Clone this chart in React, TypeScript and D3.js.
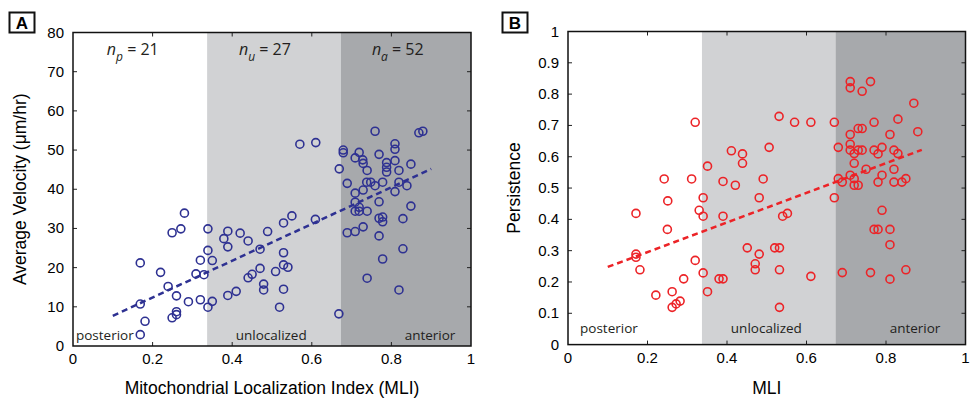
import * as d3 from "d3";
import { useEffect, useRef } from "react";

// axis ticks
const mliTicks = [0, 0.2, 0.4, 0.6, 0.8, 1];
const mliTickLabels = ["0", "0.2", "0.4", "0.6", "0.8", "1"];
const velocityTicks = [0, 10, 20, 30, 40, 50, 60, 70, 80];
const velocityTickLabels = ["0", "10", "20", "30", "40", "50", "60", "70", "80"];
const persistenceTicks = [0, 0.1, 0.2, 0.3, 0.4, 0.5, 0.6, 0.7, 0.8, 0.9, 1];
const persistenceTickLabels = ["0", "0.1", "0.2", "0.3", "0.4", "0.5", "0.6", "0.7", "0.8", "0.9", "1"];

// MLI regions
const regionEdges = [0, 0.337, 0.673, 1];
const regionNames = ["posterior", "unlocalized", "anterior"];
const regionSubscripts = ["p", "u", "a"];
const regionCounts = [21, 27, 52];

// [MLI, average velocity um/hr]
const velocityPoints: [number, number][] = [
  [0.28, 33.9], [0.249, 28.9], [0.271, 29.9], [0.32, 21.9], [0.169, 21.2], [0.22, 18.8],
  [0.309, 18.4], [0.329, 18.2], [0.239, 15.2], [0.26, 12.8], [0.29, 11.3], [0.32, 11.8],
  [0.169, 10.7], [0.26, 8.75], [0.26, 8.0], [0.249, 7.2], [0.181, 6.3], [0.169, 2.9],
  [0.339, 29.9], [0.339, 24.4], [0.339, 9.9],
  [0.389, 29.3], [0.379, 27.4], [0.389, 25.3], [0.42, 28.8], [0.44, 26.8], [0.489, 29.2],
  [0.47, 24.7], [0.35, 21.8], [0.47, 19.8], [0.45, 18.3], [0.44, 17.4], [0.509, 19.0],
  [0.479, 15.8], [0.479, 14.3], [0.389, 12.9], [0.41, 13.95], [0.35, 11.4], [0.57, 51.5],
  [0.61, 51.9], [0.609, 32.3], [0.55, 33.2], [0.529, 31.4], [0.529, 23.8], [0.529, 20.7],
  [0.54, 20.1], [0.529, 14.5], [0.519, 9.9], [0.668, 8.2], [0.669, 45.2],
  [0.759, 54.8], [0.869, 54.4], [0.879, 54.8], [0.809, 51.6], [0.809, 50.2], [0.679, 50.0],
  [0.679, 49.3], [0.719, 49.4], [0.769, 48.9], [0.709, 48.0], [0.728, 47.5], [0.729, 46.6],
  [0.788, 46.8], [0.809, 47.3], [0.849, 46.4], [0.788, 45.6], [0.788, 44.4], [0.739, 44.8],
  [0.819, 44.8], [0.689, 41.5], [0.738, 41.8], [0.748, 41.8], [0.759, 40.9], [0.778, 41.8],
  [0.819, 41.8], [0.839, 40.9], [0.729, 39.8], [0.709, 39.0], [0.809, 39.4], [0.769, 36.8],
  [0.849, 35.7], [0.709, 36.7], [0.719, 35.4], [0.709, 34.4], [0.719, 34.4], [0.739, 34.4],
  [0.769, 32.6], [0.778, 32.9], [0.778, 31.7], [0.829, 32.5], [0.689, 28.9], [0.709, 29.2],
  [0.729, 30.4], [0.769, 28.1], [0.829, 24.8], [0.778, 22.2], [0.739, 17.3], [0.819, 14.3],
];

// [MLI, persistence]
const persistencePoints: [number, number][] = [
  [0.32, 0.71], [0.351, 0.57], [0.411, 0.619], [0.439, 0.609], [0.439, 0.579], [0.506, 0.63],
  [0.531, 0.729], [0.57, 0.71], [0.611, 0.71], [0.242, 0.529], [0.311, 0.529], [0.39, 0.521],
  [0.421, 0.509], [0.491, 0.529], [0.251, 0.459], [0.34, 0.469], [0.481, 0.469], [0.171, 0.419],
  [0.33, 0.429], [0.34, 0.41], [0.39, 0.41], [0.25, 0.368], [0.451, 0.309], [0.481, 0.289],
  [0.471, 0.258], [0.471, 0.239], [0.171, 0.289], [0.171, 0.279], [0.181, 0.239], [0.32, 0.269],
  [0.34, 0.229], [0.291, 0.21], [0.38, 0.21], [0.39, 0.21], [0.221, 0.158], [0.262, 0.169],
  [0.351, 0.169], [0.282, 0.139], [0.272, 0.13], [0.262, 0.119], [0.54, 0.41], [0.552, 0.419],
  [0.52, 0.309], [0.532, 0.309], [0.532, 0.239], [0.611, 0.218], [0.532, 0.119],
  [0.71, 0.84], [0.71, 0.82], [0.761, 0.84], [0.74, 0.809], [0.87, 0.771], [0.67, 0.71],
  [0.77, 0.71], [0.83, 0.72], [0.88, 0.68], [0.73, 0.69], [0.74, 0.69], [0.71, 0.671],
  [0.81, 0.671], [0.68, 0.63], [0.71, 0.64], [0.71, 0.621], [0.72, 0.61], [0.73, 0.621],
  [0.74, 0.621], [0.77, 0.621], [0.78, 0.609], [0.79, 0.63], [0.82, 0.621], [0.83, 0.61],
  [0.72, 0.579], [0.75, 0.56], [0.82, 0.56], [0.71, 0.541], [0.79, 0.541], [0.68, 0.53],
  [0.69, 0.519], [0.72, 0.53], [0.72, 0.509], [0.73, 0.509], [0.78, 0.519], [0.82, 0.519],
  [0.84, 0.519], [0.85, 0.53], [0.67, 0.469], [0.79, 0.429], [0.77, 0.368], [0.78, 0.368],
  [0.81, 0.368], [0.81, 0.319], [0.69, 0.23], [0.761, 0.23], [0.85, 0.239], [0.81, 0.209],
];

// dashed linear fits, end points [MLI, value]
const velocityFit: [number, number][] = [[0.1, 7.7], [0.9, 45.2]];
const persistenceFit: [number, number][] = [[0.1, 0.248], [0.89, 0.622]];

const tickFont = "'Liberation Sans', Arial, sans-serif";
const labelFont = "'Open Sans', 'Noto Sans', sans-serif";
const bandColors = [null, "#d1d2d4", "#a7a9ac"];

function drawPanel(root, p) {
  const g = root.append("g");
  const x = d3.scaleLinear().domain([0, 1]).range([p.x0, p.x1]);
  const y = d3.scaleLinear().domain([0, p.yMax]).range([p.y1, p.y0]);

  const bands = regionNames.map((name, i) => ({ from: regionEdges[i], to: regionEdges[i + 1], fill: bandColors[i] }));
  g.selectAll("rect.band")
    .data(bands.filter((b) => b.fill))
    .join("rect")
    .attr("x", (b) => x(b.from))
    .attr("width", (b) => x(b.to) - x(b.from))
    .attr("y", y(p.yMax))
    .attr("height", y(0) - y(p.yMax))
    .attr("fill", (b) => b.fill);

  // inward ticks on all four sides
  const t = 4;
  const innerX = mliTicks.slice(1, -1);
  const innerY = p.yTicks.slice(1, -1);
  const ticks = g.append("g").attr("stroke", "#222").attr("stroke-width", 1);
  innerX.forEach((v) => {
    ticks.append("line").attr("x1", x(v)).attr("x2", x(v)).attr("y1", y(0)).attr("y2", y(0) - t);
    ticks.append("line").attr("x1", x(v)).attr("x2", x(v)).attr("y1", y(p.yMax)).attr("y2", y(p.yMax) + t);
  });
  innerY.forEach((v) => {
    ticks.append("line").attr("x1", x(0)).attr("x2", x(0) + t).attr("y1", y(v)).attr("y2", y(v));
    ticks.append("line").attr("x1", x(1)).attr("x2", x(1) - t).attr("y1", y(v)).attr("y2", y(v));
  });

  const line = d3.line().x((d) => x(d[0])).y((d) => y(d[1]));
  g.append("path")
    .attr("d", line(p.fit))
    .attr("fill", "none")
    .attr("stroke", p.color)
    .attr("stroke-width", 2.5)
    .attr("stroke-dasharray", "6,4");

  g.append("g")
    .selectAll("circle")
    .data(p.points)
    .join("circle")
    .attr("cx", (d) => x(d[0]))
    .attr("cy", (d) => y(d[1]))
    .attr("r", 4)
    .attr("fill", "none")
    .attr("stroke", p.color)
    .attr("stroke-width", 1.6);

  g.append("rect")
    .attr("x", x(0))
    .attr("y", y(p.yMax))
    .attr("width", x(1) - x(0))
    .attr("height", y(0) - y(p.yMax))
    .attr("fill", "none")
    .attr("stroke", "#111")
    .attr("stroke-width", 1.5);

  // tick labels
  g.append("g")
    .selectAll("text")
    .data(mliTicks)
    .join("text")
    .attr("x", (v) => x(v))
    .attr("y", y(0) + 18)
    .attr("text-anchor", "middle")
    .attr("font-family", tickFont)
    .attr("font-size", 15)
    .text((v, i) => mliTickLabels[i]);

  g.append("g")
    .selectAll("text")
    .data(p.yTicks)
    .join("text")
    .attr("x", x(0) - 9)
    .attr("y", (v) => y(v) + 5)
    .attr("text-anchor", "end")
    .attr("font-family", tickFont)
    .attr("font-size", 15)
    .text((v, i) => p.yLabels[i]);

  // region names
  g.append("g")
    .selectAll("text")
    .data(regionNames)
    .join("text")
    .attr("x", (d, i) => x(p.regionLabelX[i]))
    .attr("y", p.regionLabelY)
    .attr("text-anchor", "middle")
    .attr("font-family", labelFont)
    .attr("font-size", 13.5)
    .attr("fill", "#231f20")
    .text((d) => d);

  if (p.showCounts) {
    const counts = g.append("g").attr("font-family", labelFont).attr("font-size", 16).attr("fill", "#231f20");
    regionCounts.forEach((n, i) => {
      const txt = counts.append("text").attr("x", x(p.countX[i])).attr("y", 55);
      txt.append("tspan").attr("font-style", "italic").text("n");
      txt.append("tspan").attr("font-style", "italic").attr("font-size", 12).attr("dy", 6).text(regionSubscripts[i]);
      txt.append("tspan").attr("dy", -6).text(` = ${n}`);
    });
  }

  // axis titles
  g.append("text")
    .attr("x", (x(0) + x(1)) / 2)
    .attr("y", 394)
    .attr("text-anchor", "middle")
    .attr("font-family", tickFont)
    .attr("font-size", 17.5)
    .text(p.xTitle);

  g.append("text")
    .attr("transform", `translate(${p.yTitleX},${(y(0) + y(p.yMax)) / 2}) rotate(-90)`)
    .attr("text-anchor", "middle")
    .attr("font-family", tickFont)
    .attr("font-size", 17.5)
    .text(p.yTitle);

  // panel letter
  g.append("rect")
    .attr("x", p.boxX)
    .attr("y", 12.5)
    .attr("width", 25)
    .attr("height", 20)
    .attr("fill", "none")
    .attr("stroke", "#111")
    .attr("stroke-width", 2);
  g.append("text")
    .attr("x", p.boxX + 12.5)
    .attr("y", 28.5)
    .attr("text-anchor", "middle")
    .attr("font-family", tickFont)
    .attr("font-weight", "bold")
    .attr("font-size", 17)
    .text(p.letter);
}

export default function App() {
  const svgRef = useRef(null);

  useEffect(() => {
    const svg = d3.select(svgRef.current);
    svg.selectAll("*").remove();
    svg.append("rect").attr("width", 972).attr("height", 410).attr("fill", "#fff");

    drawPanel(svg, {
      letter: "A",
      boxX: 9.5,
      x0: 73,
      x1: 471,
      y0: 32.5,
      y1: 346,
      yMax: 80,
      yTicks: velocityTicks,
      yLabels: velocityTickLabels,
      points: velocityPoints,
      fit: velocityFit,
      color: "#2e3192",
      xTitle: "Mitochondrial Localization Index (MLI)",
      yTitle: "Average Velocity (\u03bcm/hr)",
      yTitleX: 26,
      regionLabelX: [0.08, 0.498, 0.897],
      regionLabelY: 340,
      showCounts: true,
      countX: [0.085, 0.417, 0.751],
    });

    drawPanel(svg, {
      letter: "B",
      boxX: 502.5,
      x0: 568,
      x1: 965.5,
      y0: 31.5,
      y1: 344.6,
      yMax: 1,
      yTicks: persistenceTicks,
      yLabels: persistenceTickLabels,
      points: persistencePoints,
      fit: persistenceFit,
      color: "#ec2327",
      xTitle: "MLI",
      yTitle: "Persistence",
      yTitleX: 520,
      regionLabelX: [0.103, 0.499, 0.873],
      regionLabelY: 333,
      showCounts: false,
      countX: [],
    });
  }, []);

  return (
    <div style={{ position: "absolute", left: 0, top: 0 }}>
      <svg ref={svgRef} width={972} height={410} style={{ display: "block" }} />
    </div>
  );
}
